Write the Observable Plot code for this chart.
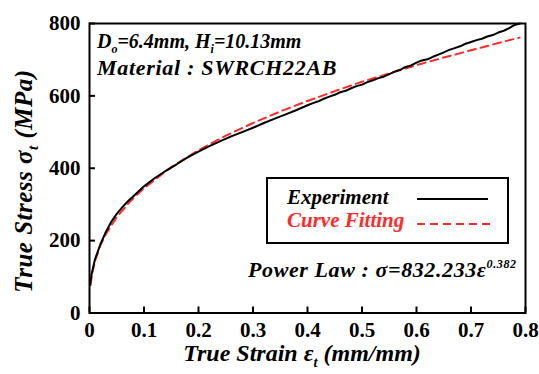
<!DOCTYPE html>
<html>
<head>
<meta charset="utf-8">
<script src="https://cdn.jsdelivr.net/npm/d3@7"></script>
<script src="https://cdn.jsdelivr.net/npm/@observablehq/plot@0.6"></script>
<style>
  html, body { margin: 0; padding: 0; background: #fff; }
  #chart svg { display: block; }
  #chart svg, #chart svg text {
    font-family: "Liberation Serif", "Times New Roman", Times, "DejaVu Serif", serif !important;
  }
  #chart g[aria-label="x-axis tick label"] text,
  #chart g[aria-label="y-axis tick label"] text { font-weight: bold; }
</style>
</head>
<body>
<div id="chart"></div>
<script>
// Experiment (true strain, true stress MPa)
const strainExp = [0.001,0.004,0.01,0.02,0.03,0.04,0.05,0.06,0.07,0.08,0.1,0.12,0.14,0.16,0.18,0.2,0.22,0.24,0.26,0.28,0.3,0.32,0.34,0.36,0.38,0.4,0.41,0.42,0.43,0.44,0.45,0.46,0.47,0.48,0.49,0.5,0.51,0.52,0.53,0.54,0.55,0.56,0.57,0.58,0.59,0.6,0.61,0.62,0.63,0.64,0.65,0.66,0.67,0.68,0.69,0.7,0.71,0.72,0.73,0.74,0.75,0.76,0.77,0.78,0.79];
const stressExp = [78,108,148,190,224,252,274,292,308,322,350,373,393,411,430,446,461,475,488,500,512,525,537,549,561,574,580,585,592,598,603,610,614,621,627,631,638,643,649,653,660,667,672,680,684,692,698,701,708,714,720,727,732,737,744,749,754,758,764,768,775,780,787,796,800];
// Curve fitting (power law)
const strainFit = [0.002,0.005,0.01,0.02,0.03,0.05,0.075,0.1,0.15,0.2,0.25,0.3,0.35,0.4,0.45,0.5,0.55,0.6,0.65,0.7,0.75,0.789];
const stressFit = [77,110,143,187,218,265,309,345,403,450,490,525,557,586,613,639,662,685,706,726,746,761];
// Tick values
const xTicks = [0,0.1,0.2,0.3,0.4,0.5,0.6,0.7,0.8];
const yTicks = [0,200,400,600,800];
const xTickLabels = ["0","0.1","0.2","0.3","0.4","0.5","0.6","0.7","0.8"];
const yTickLabels = ["0","200","400","600","800"];

const expData = strainExp.map((e, i) => ({e, s: stressExp[i]}));
const fitData = strainFit.map((e, i) => ({e, s: stressFit[i]}));

const W = 539, H = 374;
const mL = 89, mR = 14, mT = 23, mB = 61.5;
const fW = W - mL - mR, fH = H - mT - mB;

const plot = Plot.plot({
  width: W, height: H,
  marginLeft: mL, marginRight: mR, marginTop: mT, marginBottom: mB,
  style: {background: "#fff", color: "#000"},
  x: {domain: [0, 0.8]},
  y: {domain: [0, 800]},
  marks: [
    Plot.line(fitData, {x: "e", y: "s", stroke: "#ff2b2b", strokeWidth: 2, strokeDasharray: "8,5"}),
    Plot.line(expData, {x: "e", y: "s", stroke: "#000", strokeWidth: 2}),
    Plot.ruleX(xTicks, {x: d => d, stroke: "#000", strokeWidth: 2, insetTop: fH - 6}),
    Plot.ruleY(yTicks, {y: d => d, stroke: "#000", strokeWidth: 2, insetRight: fW - 6}),
    Plot.frame({stroke: "#000", strokeWidth: 2}),
    Plot.axisX({ticks: xTicks, tickSize: 0, tickPadding: 9, fontSize: 21, fontWeight: "bold",
      tickFormat: d => xTickLabels[xTicks.indexOf(d)], label: null}),
    Plot.axisY({ticks: yTicks, tickSize: 0, tickPadding: 9, fontSize: 21, fontWeight: "bold",
      tickFormat: d => yTickLabels[yTicks.indexOf(d)], label: null})
  ]
});
document.getElementById("chart").appendChild(plot);

const svg = d3.select(plot);
function addText(x, y, parts, opts = {}) {
  const size = opts.size || 21;
  const t = svg.append("text")
    .attr("x", x).attr("y", y)
    .attr("font-size", size)
    .attr("font-weight", "bold")
    .attr("font-style", "italic")
    .attr("fill", opts.fill || "#000")
    .attr("text-anchor", opts.anchor || "start");
  if (opts.spacing) t.attr("letter-spacing", opts.spacing);
  if (opts.transform) t.attr("transform", opts.transform).attr("x", 0).attr("y", 0);
  let pending = 0;
  parts.forEach(p => {
    const [txt, kind] = Array.isArray(p) ? p : [p, null];
    const ts = t.append("tspan").text(txt);
    let shift = 0;
    if (kind === "sub") { shift = size * 0.25; ts.attr("font-size", size * 0.6); }
    else if (kind === "sup") { shift = -size * 0.4; ts.attr("font-size", size * 0.55); }
    const dy = pending + shift;
    if (dy !== 0) ts.attr("dy", dy);
    pending = -shift;
  });
  return t;
}

// Annotations
addText(97, 48, ["D", ["o", "sub"], "=6.4mm, H", ["i", "sub"], "=10.13mm"], {size: 20});
addText(97, 75, ["Material : SWRCH22AB"], {size: 22, spacing: 0.7});

// Legend
svg.append("rect").attr("x", 267).attr("y", 178).attr("width", 241).attr("height", 65)
  .attr("fill", "#fff").attr("stroke", "#000").attr("stroke-width", 2);
addText(287, 204, ["Experiment"], {size: 21});
addText(287, 227, ["Curve Fitting"], {size: 21, fill: "#ff2b2b"});
svg.append("line").attr("x1", 417).attr("x2", 488).attr("y1", 199).attr("y2", 199)
  .attr("stroke", "#000").attr("stroke-width", 2);
svg.append("line").attr("x1", 417).attr("x2", 490).attr("y1", 224).attr("y2", 224)
  .attr("stroke", "#ff2b2b").attr("stroke-width", 2).attr("stroke-dasharray", "8,5");

// Power law
addText(248, 277, ["Power Law : σ=832.233ε", ["0.382", "sup"]], {size: 22, spacing: 0.6});

// Axis titles
addText(302, 361, ["True Strain ε", ["t", "sub"], " (mm/mm)"], {size: 24, anchor: "middle"});
addText(0, 0, ["True Stress σ", ["t", "sub"], " (MPa)"], {size: 25, anchor: "middle", spacing: 0.5, transform: "translate(32,181) rotate(-90)"});
</script>
</body>
</html>
